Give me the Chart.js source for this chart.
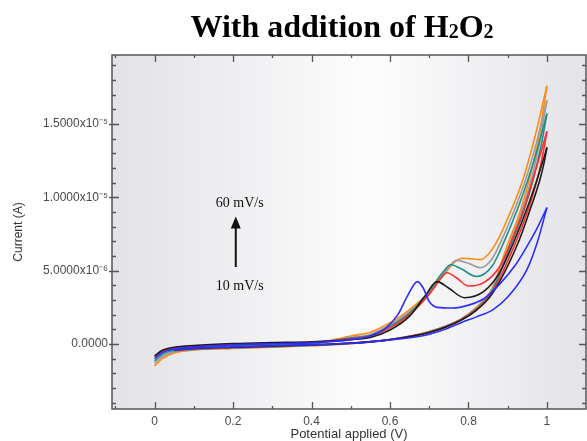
<!DOCTYPE html>
<html>
<head>
<meta charset="utf-8">
<script src="https://cdn.jsdelivr.net/npm/chart.js@4/dist/chart.umd.min.js"></script>
<style>
  html, body { margin: 0; padding: 0; background: #fff; }
</style>
</head>
<body>
<canvas id="cv" width="587" height="441"></canvas>
<script>
// Scan rates (10 mV/s first so it is drawn on top)
const scanRates = ["10 mV/s", "20 mV/s", "30 mV/s", "40 mV/s", "50 mV/s", "60 mV/s"];
const lineColors = ["#2d2dff", "#1c1c1c", "#ff2d2d", "#1f8f88", "#9b9b9b", "#ff8b17"];

// Forward sweep: potential (V) and current (x1e-6 A)
const fwdPotential = [
    [0, 0.02, 0.05, 0.1, 0.2, 0.3, 0.4, 0.5, 0.55, 0.59, 0.62, 0.645, 0.67, 0.685, 0.70, 0.72, 0.76, 0.80, 0.84, 0.88, 0.92, 0.95, 0.975, 1.0],
    [0, 0.02, 0.05, 0.1, 0.2, 0.3, 0.4, 0.5, 0.55, 0.6, 0.65, 0.69, 0.72, 0.75, 0.79, 0.84, 0.88, 0.918, 0.95, 0.975, 0.99, 1.0],
    [0, 0.02, 0.05, 0.1, 0.2, 0.3, 0.4, 0.5, 0.55, 0.6, 0.65, 0.7, 0.73, 0.745, 0.77, 0.8, 0.84, 0.88, 0.911, 0.94, 0.964, 0.985, 1.0],
    [0, 0.02, 0.05, 0.1, 0.2, 0.3, 0.4, 0.5, 0.55, 0.6, 0.65, 0.7, 0.735, 0.755, 0.78, 0.82, 0.86, 0.893, 0.925, 0.952, 0.978, 1.0],
    [0, 0.02, 0.05, 0.1, 0.2, 0.3, 0.4, 0.5, 0.55, 0.6, 0.65, 0.7, 0.74, 0.77, 0.8, 0.83, 0.86, 0.885, 0.915, 0.946, 0.975, 1.0],
    [0, 0.02, 0.05, 0.1, 0.2, 0.3, 0.4, 0.5, 0.55, 0.6, 0.65, 0.7, 0.74, 0.765, 0.785, 0.81, 0.83, 0.85, 0.875, 0.91, 0.939, 0.97, 1.0]
];
const fwdCurrent = [
    [-1.0, -0.58, -0.34, -0.2, -0.06, 0.02, 0.08, 0.3, 0.55, 1.1, 2.0, 3.3, 4.25, 3.8, 2.9, 2.5, 2.45, 2.65, 3.1, 4.1, 5.4, 6.7, 7.9, 9.3],
    [-0.8, -0.42, -0.22, -0.1, 0.03, 0.1, 0.15, 0.3, 0.45, 0.95, 1.9, 3.3, 4.25, 3.8, 3.15, 3.6, 4.9, 7.12, 9.3, 11.23, 12.5, 13.4],
    [-0.9, -0.5, -0.28, -0.15, -0.02, 0.05, 0.12, 0.35, 0.55, 1.1, 2.0, 3.4, 4.5, 4.86, 4.5, 3.95, 4.2, 5.3, 7.12, 9.1, 11.23, 13.1, 14.5],
    [-1.15, -0.7, -0.42, -0.26, -0.1, -0.03, 0.05, 0.4, 0.6, 1.2, 2.1, 3.6, 4.9, 5.4, 5.15, 4.6, 5.3, 7.12, 9.2, 11.23, 13.5, 15.7],
    [-1.3, -0.85, -0.52, -0.33, -0.15, -0.08, 0.02, 0.45, 0.65, 1.3, 2.2, 3.4, 4.9, 5.7, 5.5, 5.2, 5.8, 7.12, 9.0, 11.23, 13.9, 16.6],
    [-1.5, -1.0, -0.62, -0.4, -0.2, -0.13, 0.0, 0.55, 0.8, 1.45, 2.35, 3.5, 4.8, 5.6, 5.85, 5.8, 5.75, 6.1, 7.12, 9.2, 11.23, 14.2, 17.6]
];

// Reverse sweep: potential (V) and current (x1e-6 A)
const revPotential = [
    [0.05, 0.1, 0.2, 0.3, 0.4, 0.5, 0.6, 0.69, 0.74, 0.78, 0.82, 0.862, 0.9, 0.949, 0.975, 1.0],
    [0.05, 0.1, 0.2, 0.3, 0.4, 0.5, 0.6, 0.7, 0.78, 0.82, 0.86, 0.925, 0.955, 0.982, 0.993, 1.0],
    [0.05, 0.1, 0.2, 0.3, 0.4, 0.5, 0.6, 0.7, 0.78, 0.82, 0.86, 0.92, 0.95, 0.975, 0.99, 1.0],
    [0.05, 0.1, 0.2, 0.3, 0.4, 0.5, 0.6, 0.7, 0.78, 0.82, 0.86, 0.91, 0.94, 0.965, 0.985, 1.0],
    [0.05, 0.1, 0.2, 0.3, 0.4, 0.5, 0.6, 0.7, 0.78, 0.82, 0.86, 0.905, 0.935, 0.96, 0.98, 1.0],
    [0.05, 0.1, 0.2, 0.3, 0.4, 0.5, 0.6, 0.7, 0.78, 0.82, 0.86, 0.9, 0.93, 0.955, 0.98, 1.0]
];
const revCurrent = [
    [-0.4, -0.3, -0.2, -0.12, -0.05, 0.05, 0.28, 0.6, 1.0, 1.44, 1.85, 2.33, 3.2, 5.07, 6.9, 9.3],
    [-0.4, -0.3, -0.22, -0.14, -0.06, 0.06, 0.3, 0.78, 1.6, 2.3, 3.4, 6.8, 9.0, 11.2, 12.4, 13.4],
    [-0.44, -0.32, -0.24, -0.16, -0.07, 0.05, 0.3, 0.8, 1.64, 2.35, 3.5, 6.9, 9.0, 11.2, 13.0, 14.5],
    [-0.47, -0.35, -0.26, -0.18, -0.08, 0.04, 0.3, 0.82, 1.66, 2.4, 3.6, 6.9, 9.0, 11.2, 13.5, 15.7],
    [-0.5, -0.37, -0.28, -0.2, -0.1, 0.03, 0.3, 0.85, 1.68, 2.45, 3.7, 6.8, 9.0, 11.2, 13.6, 16.6],
    [-0.55, -0.4, -0.3, -0.22, -0.12, 0.02, 0.3, 0.85, 1.7, 2.5, 3.8, 6.8, 8.9, 11.2, 14.2, 17.6]
];
const currentUnit = 1e-6;

// Axis limits
const xMin = -0.1084, xMax = 1.0995;
const yMin = -4.43e-6, yMax = 19.7e-6;

// Arrow note showing increasing scan rate
const rateNoteTop = { text: "60 mV/s", x: 0.217, y: 9.6e-6 };
const rateNoteBottom = { text: "10 mV/s", x: 0.217, y: 3.9e-6 };
const arrowX = 0.207, arrowFrom = 5.25e-6, arrowTo = 8.7e-6;

const supMap = { "-": "\u207B", "0": "\u2070", "1": "\u00B9", "2": "\u00B2", "3": "\u00B3", "4": "\u2074",
                 "5": "\u2075", "6": "\u2076", "7": "\u2077", "8": "\u2078", "9": "\u2079" };

function yLabel(v)
{
    if (Math.abs(v) < 1e-12) return "0.0000";
    const e = Math.floor(Math.log10(Math.abs(v)) + 1e-9);
    const m = v / Math.pow(10, e);
    const sup = String(e).split("").map(c => supMap[c]).join("");
    return m.toFixed(4) + "x10" + sup;
}

function isMultiple(v, step)
{
    const r = v / step;
    return Math.abs(r - Math.round(r)) < 1e-6;
}

function branch(xs, ys)
{
    return xs.map((x, j) => ({ x: x, y: ys[j] * currentUnit }));
}

const datasets = [];
for (let i = 0; i < scanRates.length; i++)
{
    const common = {
        borderColor: lineColors[i],
        borderWidth: 1.6,
        pointRadius: 0,
        showLine: true,
        fill: false,
        cubicInterpolationMode: "monotone"
    };
    datasets.push(Object.assign({ label: scanRates[i] + " forward", data: branch(fwdPotential[i], fwdCurrent[i]) }, common));
    datasets.push(Object.assign({ label: scanRates[i] + " reverse", data: branch(revPotential[i], revCurrent[i]) }, common));
}

// Background, frame, tick marks and texts
const decor = {
    id: "decor",
    beforeDraw(chart)
    {
        const ctx = chart.ctx, a = chart.chartArea;
        ctx.save();
        ctx.fillStyle = "#ffffff";
        ctx.fillRect(0, 0, chart.width, chart.height);
        const g = ctx.createLinearGradient(a.left, 0, a.right, 0);
        g.addColorStop(0, "#e2e2e7");
        g.addColorStop(0.55, "#fdfdfd");
        g.addColorStop(1, "#e3e3e8");
        ctx.fillStyle = g;
        ctx.fillRect(a.left, a.top, a.right - a.left, a.bottom - a.top);
        ctx.restore();
    },
    afterDraw(chart)
    {
        const ctx = chart.ctx, a = chart.chartArea;
        const xs = chart.scales.x, ys = chart.scales.y;
        ctx.save();

        // frame
        ctx.strokeStyle = "#555";
        ctx.lineWidth = 1.5;
        ctx.strokeRect(a.left, a.top, a.right - a.left, a.bottom - a.top);

        // tick marks
        ctx.lineWidth = 1.3;
        ctx.beginPath();
        for (let k = -1; k <= 10; k++)
        {
            const px = Math.round(xs.getPixelForValue(k / 10)) + 0.5;
            const len = k % 2 === 0 ? 7 : 3;
            ctx.moveTo(px, a.bottom); ctx.lineTo(px, a.bottom - len);
            ctx.moveTo(px, a.top); ctx.lineTo(px, a.top + len);
        }
        for (let k = -4; k <= 19; k++)
        {
            const py = Math.round(ys.getPixelForValue(k * 1e-6)) + 0.5;
            if (k % 5 === 0)
            {
                ctx.moveTo(a.left - 3, py); ctx.lineTo(a.left + 7, py);
                ctx.moveTo(a.right, py); ctx.lineTo(a.right - 7, py);
            }
            else
            {
                ctx.moveTo(a.left, py); ctx.lineTo(a.left + 4, py);
                ctx.moveTo(a.right, py); ctx.lineTo(a.right - 4, py);
            }
        }
        ctx.stroke();

        // title with subscripts
        const parts = [["With addition of H", 32, 0], ["2", 20, 1], ["O", 32, 0], ["2", 20, 1]];
        let total = 0;
        parts.forEach(p => {
            ctx.font = "bold " + p[1] + "px 'Liberation Serif', 'Times New Roman', serif";
            total += ctx.measureText(p[0]).width;
        });
        let tx = 342 - total / 2;
        ctx.fillStyle = "#000";
        ctx.textAlign = "left";
        ctx.textBaseline = "alphabetic";
        parts.forEach(p => {
            ctx.font = "bold " + p[1] + "px 'Liberation Serif', 'Times New Roman', serif";
            ctx.fillText(p[0], tx, 37 + p[2]);
            tx += ctx.measureText(p[0]).width;
        });

        // axis titles
        ctx.fillStyle = "#333";
        ctx.font = "13px 'Liberation Sans', Arial, sans-serif";
        ctx.textAlign = "center";
        ctx.textBaseline = "middle";
        ctx.fillText("Potential applied (V)", (a.left + a.right) / 2, 434);
        ctx.save();
        ctx.translate(19, (a.top + a.bottom) / 2);
        ctx.rotate(-Math.PI / 2);
        ctx.font = "12px 'Liberation Sans', Arial, sans-serif";
        ctx.fillText("Current (A)", 0, 0);
        ctx.restore();

        // scan-rate note and arrow
        ctx.fillStyle = "#111";
        ctx.font = "14px 'Liberation Serif', 'Times New Roman', serif";
        [rateNoteTop, rateNoteBottom].forEach(n => {
            ctx.fillText(n.text, xs.getPixelForValue(n.x), ys.getPixelForValue(n.y));
        });
        const ax = xs.getPixelForValue(arrowX);
        const ay0 = ys.getPixelForValue(arrowFrom), ay1 = ys.getPixelForValue(arrowTo);
        ctx.strokeStyle = "#111";
        ctx.lineWidth = 2;
        ctx.beginPath();
        ctx.moveTo(ax, ay0); ctx.lineTo(ax, ay1 + 10);
        ctx.stroke();
        ctx.beginPath();
        ctx.moveTo(ax, ay1); ctx.lineTo(ax - 5, ay1 + 12); ctx.lineTo(ax + 5, ay1 + 12);
        ctx.closePath();
        ctx.fill();

        ctx.restore();
    }
};

new Chart(document.getElementById("cv"), {
    type: "scatter",
    data: { datasets: datasets },
    plugins: [decor],
    options: {
        responsive: false,
        animation: false,
        devicePixelRatio: 1,
        layout: { padding: { top: 55, right: 1, left: 0, bottom: 0 } },
        plugins: { legend: { display: false }, tooltip: { enabled: false }, title: { display: false } },
        scales: {
            x: {
                type: "linear",
                min: xMin, max: xMax,
                afterFit: s => { s.height = 32; s.paddingLeft = 0; s.paddingRight = 0; },
                grid: { display: false, drawTicks: false },
                border: { display: false },
                ticks: {
                    stepSize: 0.1, autoSkip: false, maxRotation: 0, padding: 5, includeBounds: false,
                    color: "#4a4a4a",
                    font: { family: "'Liberation Sans', Arial, sans-serif", size: 12 },
                    callback: v => isMultiple(v, 0.2) ? String(Number(v.toFixed(1))) : ""
                }
            },
            y: {
                type: "linear",
                min: yMin, max: yMax,
                afterFit: s => { s.width = 112; s.paddingTop = 0; s.paddingBottom = 0; },
                grid: { display: false, drawTicks: false },
                border: { display: false },
                ticks: {
                    stepSize: 1e-6, autoSkip: false, padding: 4, includeBounds: false,
                    color: "#4a4a4a",
                    font: { family: "'Liberation Sans', Arial, sans-serif", size: 12 },
                    callback: v => isMultiple(v, 5e-6) ? yLabel(v) : ""
                }
            }
        }
    }
});
</script>
</body>
</html>
